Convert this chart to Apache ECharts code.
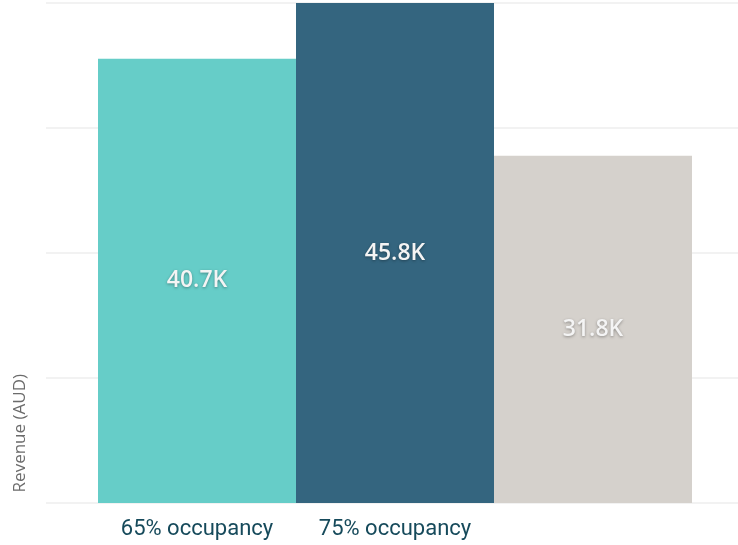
<!DOCTYPE html>
<html>
<head>
<meta charset="utf-8">
<script src="https://cdn.jsdelivr.net/npm/echarts@6/dist/echarts.min.js"></script>
<style>
  html, body { margin: 0; padding: 0; background: #fff; }
  #chart { width: 738px; height: 545px; }
</style>
</head>
<body>
<div id="chart"></div>
<script>
// revenue per scenario, in thousands AUD
var categories = ['65% occupancy', '75% occupancy', ''];
var revenue = [40.7, 45.8, 31.8];
var barColors = ['#66cdc8', '#34657f', '#d5d1cc'];
var yMax = 45.8;

var chart = echarts.init(document.getElementById('chart'));

chart.setOption({
  animation: false,
  grid: [
    // background grid, only for the split lines
    { left: 46, right: 0, top: 3, bottom: 42 },
    // bars
    { left: 98, width: 594, top: 3, bottom: 42 }
  ],
  xAxis: [
    { gridIndex: 0, type: 'value', show: false },
    {
      gridIndex: 1,
      type: 'category',
      data: categories,
      axisLine: { show: false },
      axisTick: { show: false },
      axisLabel: {
        interval: 0,
        hideOverlap: false,
        color: '#164a5b',
        fontFamily: 'Roboto',
        fontSize: 22,
        margin: 15
      }
    }
  ],
  yAxis: [
    {
      gridIndex: 0,
      type: 'value',
      min: 0,
      max: yMax,
      interval: yMax / 4,
      axisLabel: { show: false },
      axisLine: { show: false },
      axisTick: { show: false },
      splitLine: { lineStyle: { color: '#f2f2f2', width: 2 } }
    },
    {
      gridIndex: 1,
      type: 'value',
      min: 0,
      max: yMax,
      show: false,
      splitLine: { show: false }
    }
  ],
  graphic: [{
    type: 'text',
    left: 12,
    top: 374,
    rotation: Math.PI / 2,
    style: {
      text: 'Revenue (AUD)',
      fill: '#6b6b6b',
      font: '17px "Open Sans"'
    }
  }],
  series: [{
    type: 'bar',
    xAxisIndex: 1,
    yAxisIndex: 1,
    barCategoryGap: 0,
    data: revenue.map(function (v, i) {
      return { value: v, itemStyle: { color: barColors[i] } };
    }),
    label: {
      show: true,
      position: 'inside',
      formatter: function (p) { return p.value + 'K'; },
      color: '#f4f4f4',
      fontFamily: 'Open Sans',
      fontWeight: 600,
      fontSize: 23,
      textShadowColor: 'rgba(0,0,0,0.35)',
      textShadowBlur: 3,
      textShadowOffsetY: 1
    }
  }]
});
</script>
</body>
</html>
